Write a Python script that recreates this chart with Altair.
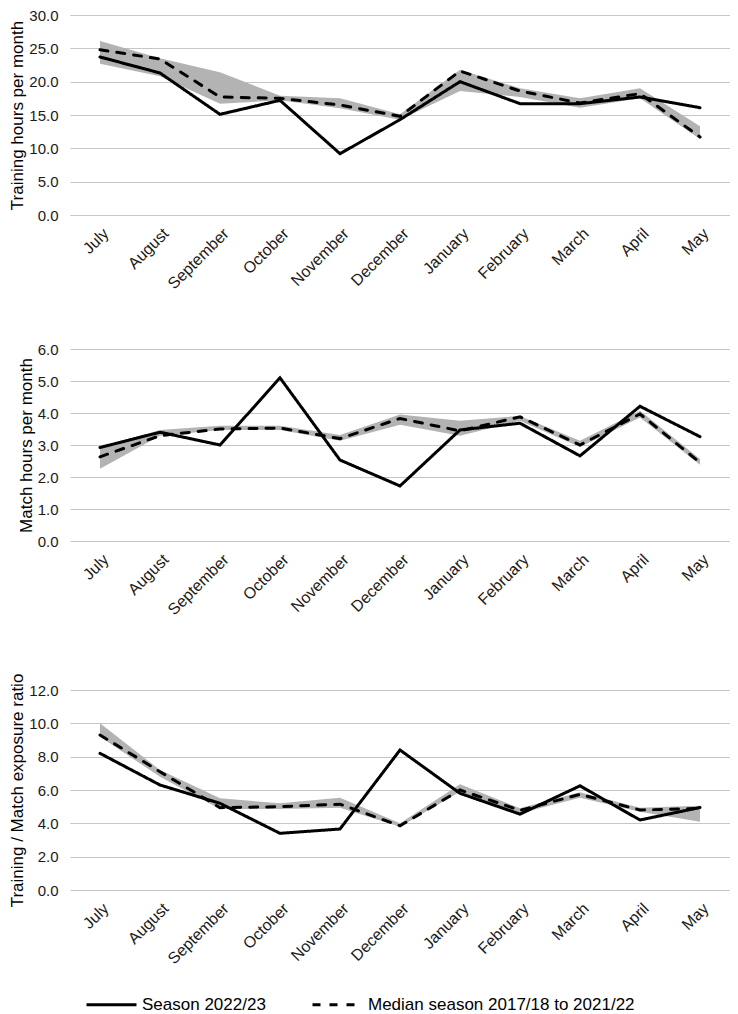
import altair as alt
import pandas as pd

months = ["July", "August", "September", "October", "November", "December",
          "January", "February", "March", "April", "May"]

series_names = ["Season 2022/23", "Median season 2017/18 to 2021/22"]

# Training hours per month
train_season = [23.7, 21.3, 15.1, 17.2, 9.2, 14.3, 20.0, 16.7, 16.7, 17.7, 16.1]
train_median = [24.8, 23.4, 17.7, 17.5, 16.5, 14.8, 21.6, 18.6, 16.8, 18.2, 11.7]
train_low = [22.7, 20.8, 16.7, 17.2, 16.0, 14.3, 18.6, 17.7, 16.1, 17.5, 11.4]
train_high = [26.1, 23.5, 21.4, 17.9, 17.5, 15.1, 21.8, 19.0, 17.5, 19.0, 13.3]

# Match hours per month
match_season = [2.92, 3.40, 3.00, 5.10, 2.53, 1.72, 3.47, 3.68, 2.66, 4.21, 3.26]
match_median = [2.63, 3.29, 3.50, 3.53, 3.20, 3.83, 3.44, 3.88, 3.00, 3.97, 2.45]
match_low = [2.26, 3.29, 3.47, 3.47, 3.13, 3.63, 3.29, 3.76, 2.94, 3.86, 2.38]
match_high = [2.92, 3.47, 3.60, 3.60, 3.31, 3.95, 3.76, 3.91, 3.13, 4.07, 2.56]

# Training / Match exposure ratio
ratio_season = [8.2, 6.3, 5.2, 3.4, 3.66, 8.4, 5.8, 4.55, 6.25, 4.2, 4.95]
ratio_median = [9.3, 7.1, 4.94, 5.0, 5.15, 3.85, 6.0, 4.78, 5.74, 4.8, 4.9]
ratio_low = [9.2, 6.8, 4.86, 4.86, 4.94, 3.8, 5.9, 4.6, 5.54, 4.7, 4.1]
ratio_high = [10.0, 7.2, 5.5, 5.2, 5.54, 4.0, 6.34, 4.9, 5.86, 4.94, 5.06]

FONT = "Liberation Sans"
W = 660


def panel(season, median, low, high, title, ymax, step, height):
    band = pd.DataFrame({"month": months, "low": low, "high": high})
    lines = pd.DataFrame({
        "month": months * 2,
        "series": [series_names[0]] * len(months) + [series_names[1]] * len(months),
        "value": list(season) + list(median),
    })
    n = int(round(ymax / step))
    ticks = [round(i * step, 1) for i in range(n + 1)]
    x = alt.X(
        "month:N", sort=months,
        scale=alt.Scale(type="point", padding=0.5),
        axis=alt.Axis(title=None, labelAngle=-45, domain=False, ticks=False,
                      labelPadding=10, labelFontSize=16, labelFont=FONT,
                      labelColor="#1a1a1a", labelOverlap=False),
    )
    yscale = alt.Scale(domain=[0, ymax], nice=False)
    yaxis = alt.Axis(title=title, values=ticks, format=".1f", domain=False,
                     ticks=False, grid=True, gridColor="#c6c6c6", gridWidth=1.2,
                     labelPadding=12, labelFontSize=15, labelFont=FONT,
                     labelColor="#1a1a1a", labelOverlap=False,
                     titleFont=FONT, titleFontSize=17,
                     titleFontWeight="normal", titleColor="black", titlePadding=2)
    area = alt.Chart(band).mark_area(color="#b3b3b3", opacity=1).encode(
        x=x,
        y=alt.Y("high:Q", scale=yscale, axis=yaxis),
        y2="low:Q",
    )
    line = alt.Chart(lines).mark_line(color="black", strokeWidth=3, strokeCap="round").encode(
        x=x,
        y=alt.Y("value:Q", scale=yscale, axis=yaxis),
        strokeDash=alt.StrokeDash(
            "series:N",
            scale=alt.Scale(domain=series_names, range=[[1, 0], [8, 9]]),
            legend=alt.Legend(title=None, orient="none", legendX=15, legendY=963,
                              direction="horizontal", symbolType="stroke",
                              symbolSize=2500, symbolStrokeWidth=3,
                              symbolStrokeColor="black", labelFontSize=17,
                              labelFont=FONT, labelColor="black", labelLimit=0,
                              columnPadding=40, labelOffset=4),
        ),
    )
    return alt.layer(area, line).properties(width=W, height=height)


p1 = panel(train_season, train_median, train_low, train_high,
           "Training hours per month", 30, 5, 200)
p2 = panel(match_season, match_median, match_low, match_high,
           "Match hours per month", 6, 1, 192)
p3 = panel(ratio_season, ratio_median, ratio_low, ratio_high,
           "Training / Match exposure ratio", 12, 2, 200)

chart = alt.vconcat(p1, alt.vconcat(p2, p3, spacing=55), spacing=50).properties(
    padding={"left": 0, "top": 0, "right": 0, "bottom": 0},
    background="white",
).configure_view(strokeWidth=0)

chart.save("out.html", embed_options={"renderer": "svg", "actions": False})
